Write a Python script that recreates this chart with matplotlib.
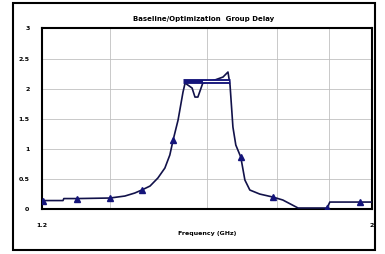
import matplotlib
matplotlib.use("Agg")
import matplotlib.pyplot as plt
from matplotlib.patches import Rectangle

title = "Baseline/Optimization  Group Delay"
xlabel = "Frequency (GHz)"
freq = [1.202, 1.251, 1.253, 1.285, 1.365, 1.401, 1.425, 1.442, 1.462, 1.481, 1.498,
        1.510, 1.518, 1.530, 1.542, 1.547, 1.564, 1.571, 1.578, 1.590, 1.619, 1.639,
        1.651, 1.656, 1.663, 1.670, 1.682, 1.692, 1.704, 1.728, 1.760, 1.784, 1.821,
        1.891, 1.898, 1.971, 2.0]
delay = [0.141, 0.141, 0.174, 0.174, 0.183, 0.216, 0.266, 0.316, 0.382, 0.515, 0.681,
         0.897, 1.146, 1.478, 1.944, 2.093, 2.01, 1.86, 1.86, 2.093, 2.143, 2.193,
         2.276, 2.06, 1.362, 1.063, 0.864, 0.482, 0.316, 0.249, 0.199, 0.15, 0.017,
         0.017, 0.116, 0.116, 0.116]
marker_idx = [0, 3, 4, 7, 12, 26, 30, 33, 35]
spec_x = [1.542, 1.656]
spec_y = [2.13, 2.13]
inner_x = [1.59, 1.652]
yticks = [0, 0.5, 1, 1.5, 2, 2.5, 3]
yticklabels = ["0", "0.5", "1", "1.5", "2", "2.5", "3"]
xticks = [1.2, 2.0]
xticklabels = ["1.2", "2"]
vgrid = [1.365, 1.6, 1.77, 1.896]

navy = "#14147a"
fig = plt.figure(figsize=(3.85, 2.54), dpi=100)
fig.patches.append(Rectangle((0.034, 0.016), 0.940, 0.972, transform=fig.transFigure,
                             fill=False, edgecolor="black", linewidth=1.5))
ax = fig.add_axes([0.109, 0.177, 0.857, 0.711])
ax.set_xlim(1.2, 2.0)
ax.set_ylim(0, 3)
for v in vgrid:
    ax.axvline(v, color="#c0c0c0", lw=0.6, zorder=0)
for v in yticks[1:-1]:
    ax.axhline(v, color="#c0c0c0", lw=0.6, zorder=0)
ax.plot(freq, delay, color="#12124a", lw=1.2, zorder=3)
ax.plot([freq[i] for i in marker_idx], [delay[i] for i in marker_idx], ls="none",
        marker="^", color=navy, ms=4, zorder=4)
ax.plot(spec_x, spec_y, color=navy, lw=3.5, solid_capstyle="butt", zorder=5)
ax.plot(inner_x, spec_y, color="white", lw=0.8, zorder=6)
ax.set_yticks(yticks)
ax.set_yticklabels(yticklabels, fontsize=4.5, fontweight="bold")
ax.set_xticks(xticks)
ax.set_xticklabels(xticklabels, fontsize=4.5, fontweight="bold")
ax.tick_params(axis="x", length=0, pad=10)
ax.tick_params(axis="y", length=0, pad=9)
for s in ax.spines.values():
    s.set_linewidth(1.5)
ax.set_xlabel(xlabel, fontsize=4.5, fontweight="bold", labelpad=2)
fig.text(0.53, 0.925, title, ha="center", va="center", fontsize=5, fontweight="bold")
fig.savefig("out.png", dpi=100)
